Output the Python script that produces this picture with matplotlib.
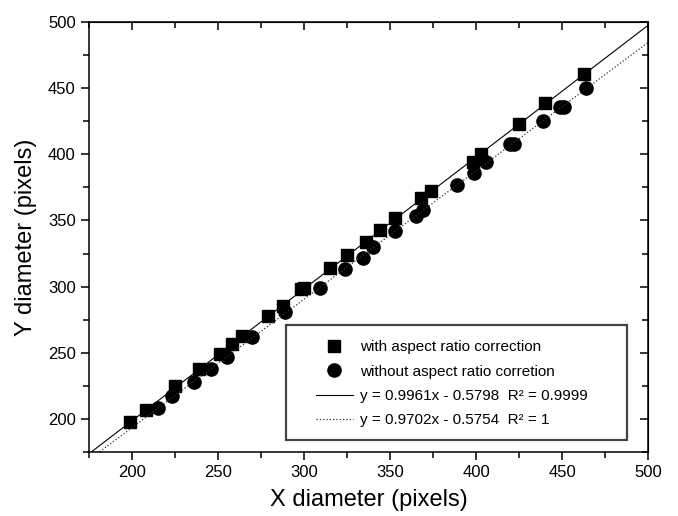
import numpy as np
import matplotlib
matplotlib.use('Agg')
import matplotlib.pyplot as plt
from matplotlib.patches import Rectangle
from matplotlib.ticker import MultipleLocator

plt.rcParams['font.family'] = ['Liberation Sans', 'DejaVu Sans']

# dane
x_kwadraty = [199, 208, 225, 239, 251, 258, 264, 279, 288, 298, 300, 315, 325,
              336, 344, 353, 368, 374, 398, 403, 425, 440, 463]
y_kwadraty = [198, 207, 225, 238, 249, 257, 263, 278, 285, 298, 299, 314, 324,
              334, 343, 352, 367, 372, 394, 400, 423, 439, 461]

x_kola = [215, 223, 236, 246, 255, 270, 289, 309, 324, 334, 340, 353, 365, 369,
          389, 399, 406, 420, 422, 439, 449, 451, 464]
y_kola = [208, 217, 228, 238, 247, 262, 281, 299, 313, 322, 330, 342, 353, 358,
          377, 386, 394, 408, 408, 425, 436, 436, 450]

# dopasowania liniowe
a1, b1 = 0.9961, -0.5798
a2, b2 = 0.9702, -0.5754
etykiety = ['with aspect ratio correction',
            'without aspect ratio corretion',
            'y = 0.9961x - 0.5798  R\u00b2 = 0.9999',
            'y = 0.9702x - 0.5754  R\u00b2 = 1']

fig = plt.figure(figsize=(6.78, 5.16), dpi=100)
ax = fig.add_subplot(111)
fig.subplots_adjust(left=0.1313, right=0.9558, top=0.9574, bottom=0.124)

xl = np.array([175, 500])
h1, = ax.plot(x_kwadraty, y_kwadraty, 's', color='black', markersize=8, linestyle='none')
h2, = ax.plot(x_kola, y_kola, 'o', color='black', markersize=9.5, linestyle='none')
h3, = ax.plot(xl, a1 * xl + b1, '-', color='black', linewidth=0.8)
h4, = ax.plot(xl, a2 * xl + b2, ':', color='#333333', linewidth=0.9)

ax.set_xlim(175, 500)
ax.set_ylim(175, 500)
ax.xaxis.set_major_locator(MultipleLocator(50))
ax.xaxis.set_minor_locator(MultipleLocator(25))
ax.yaxis.set_major_locator(MultipleLocator(50))
ax.yaxis.set_minor_locator(MultipleLocator(25))
fmt = matplotlib.ticker.FuncFormatter(lambda v, p: '' if v < 200 else f'{v:.0f}')
ax.xaxis.set_major_formatter(fmt)
ax.yaxis.set_major_formatter(fmt)

ax.tick_params(which='both', direction='out', top=False, right=False, labelsize=12, width=1.1)
ax.tick_params(which='major', length=6)
ax.tick_params(which='minor', length=4)
for s in ax.spines.values():
    s.set_linewidth(1.1)

# znaczniki do wewnątrz na górnej i prawej osi
ax_t = ax.secondary_xaxis('top')
ax_t.xaxis.set_major_locator(MultipleLocator(50))
ax_t.xaxis.set_minor_locator(MultipleLocator(25))
ax_t.tick_params(which='both', direction='in', labeltop=False, width=1.1)
ax_t.tick_params(which='major', length=6)
ax_t.tick_params(which='minor', length=4)
ax_r = ax.secondary_yaxis('right')
ax_r.yaxis.set_major_locator(MultipleLocator(50))
ax_r.yaxis.set_minor_locator(MultipleLocator(25))
ax_r.tick_params(which='both', direction='in', labelright=False, width=1.1)
ax_r.tick_params(which='major', length=6)
ax_r.tick_params(which='minor', length=4)

ax.set_xlabel('X diameter (pixels)', fontsize=17, labelpad=6)
ax.set_ylabel('Y diameter (pixels)', fontsize=17, labelpad=8)

# ramka legendy
ax.add_patch(Rectangle((0.352, 0.028), 0.61, 0.267, transform=ax.transAxes,
                       fill=False, edgecolor='#444444', linewidth=1.6, zorder=5))
ax.legend([h1, h2, h3, h4], etykiety, loc='upper left', bbox_to_anchor=(0.406, 0.260),
          frameon=False, fontsize=11, handlelength=2.4, handletextpad=0.5,
          labelspacing=0.68, borderpad=0.0, borderaxespad=0.0)

plt.savefig('out.png', dpi=100)
